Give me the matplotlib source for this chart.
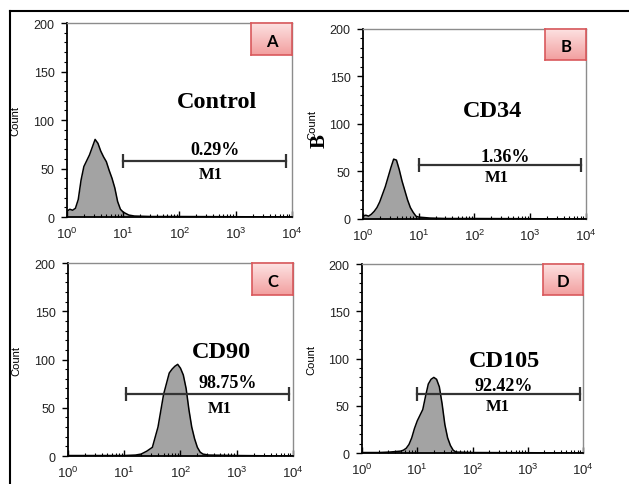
import numpy as np
import matplotlib.pyplot as plt
from matplotlib.lines import Line2D
from matplotlib.ticker import MultipleLocator, LogLocator, NullFormatter

plt.rcParams['font.family'] = ['Liberation Sans', 'DejaVu Sans']
plt.rcParams['mathtext.default'] = 'regular'

# ── DATA: histogram traces (log10 fluorescence, counts) ──────────
a_log = [0.0, 0.05, 0.1, 0.15, 0.2, 0.25, 0.3, 0.35, 0.4, 0.45, 0.5, 0.55, 0.6,
         0.65, 0.7, 0.75, 0.8, 0.85, 0.9, 0.95, 1.0, 1.1, 1.2, 1.5, 2.0, 3.0, 4.0]
a_cnt = [6, 8, 7, 9, 18, 38, 52, 58, 64, 72, 80, 76, 68,
         62, 57, 48, 40, 30, 16, 8, 5, 2, 1, 0.5, 0.5, 0.3, 0]

b_log = [0.0, 0.05, 0.1, 0.15, 0.2, 0.25, 0.3, 0.35, 0.4, 0.45, 0.5, 0.55, 0.6,
         0.65, 0.7, 0.75, 0.8, 0.85, 0.9, 0.95, 1.0, 1.2, 1.5, 2.0, 3.0, 4.0]
b_cnt = [3, 4, 3, 5, 8, 12, 18, 26, 34, 44, 54, 63, 62,
         52, 40, 30, 20, 12, 7, 3, 2, 1, 0.5, 0.5, 0.3, 0]

c_log = [0.0, 0.5, 1.0, 1.2, 1.3, 1.4, 1.5, 1.6, 1.7, 1.75, 1.8, 1.85, 1.9,
         1.95, 2.0, 2.05, 2.1, 2.15, 2.2, 2.25, 2.3, 2.35, 2.4, 2.5, 3.0, 4.0]
c_cnt = [0.5, 0.5, 0.5, 1, 2, 5, 9, 30, 64, 75, 86, 90, 93,
         95, 91, 84, 70, 48, 30, 18, 9, 4, 2, 1, 0.5, 0]

d_log = [0.0, 0.3, 0.5, 0.6, 0.7, 0.75, 0.8, 0.85, 0.9, 0.95, 1.0, 1.05, 1.1,
         1.15, 1.2, 1.25, 1.3, 1.35, 1.4, 1.45, 1.5, 1.55, 1.6, 1.65, 1.7, 2.0, 3.0, 4.0]
d_cnt = [0.5, 0.5, 1, 1.5, 2, 3, 5, 9, 16, 26, 34, 40, 46,
         60, 73, 78, 80, 78, 70, 52, 30, 16, 8, 3, 1, 0.5, 0.3, 0]

panel_letters = ['A', 'B', 'C', 'D']
markers = ['Control', 'CD34', 'CD90', 'CD105']
percents = ['0.29%', '1.36%', '98.75%', '92.42%']
gate_lo = [10, 10, 10.7, 10]
gate_hi = [7800, 8100, 8500, 8900]
gate_y = [58, 57, 64, 62]

# layout (fig fractions) and text positions (axes fractions)
positions = [[0.1065, 0.5505, 0.3577, 0.400],
             [0.5771, 0.5464, 0.3545, 0.3918],
             [0.1081, 0.0577, 0.3577, 0.3979],
             [0.5755, 0.0639, 0.3514, 0.3897]]
name_xy = [(0.667, 0.593), (0.58, 0.57), (0.684, 0.54), (0.647, 0.487)]
pct_xy = [(0.658, 0.35), (0.64, 0.33), (0.71, 0.38), (0.64, 0.355)]
m1_xy = [(0.637, 0.22), (0.60, 0.22), (0.676, 0.25), (0.613, 0.25)]

traces = [(a_log, a_cnt), (b_log, b_cnt), (c_log, c_cnt), (d_log, d_cnt)]

fig = plt.figure(figsize=(6.29, 4.85), dpi=100)

# outer frame lines (top and left)
fig.add_artist(Line2D([10/629, 1.0], [1 - 12/485, 1 - 12/485], color='black', lw=1.5))
fig.add_artist(Line2D([10/629, 10/629], [0, 1 - 12/485], color='black', lw=1.5))

gradient = np.linspace(0, 1, 64).reshape(-1, 1)
pink = plt.matplotlib.colors.LinearSegmentedColormap.from_list('pink', ['#fde3e3', '#f29f9f'])

for i in range(4):
    ax = fig.add_axes(positions[i])
    xs = np.power(10.0, traces[i][0])
    ys = np.array(traces[i][1])
    ax.fill_between(xs, 0, ys, color='#a3a3a3', lw=0)
    ax.plot(xs, ys, color='black', lw=1.1)
    ax.set_xscale('log')
    ax.set_xlim(1, 1e4)
    ax.set_ylim(0, 200)

    for s in ['left', 'bottom']:
        ax.spines[s].set_color('black')
        ax.spines[s].set_linewidth(1.3)
    for s in ['top', 'right']:
        ax.spines[s].set_color('#8c8c8c')
        ax.spines[s].set_linewidth(1.0)

    ax.yaxis.set_major_locator(MultipleLocator(50))
    ax.yaxis.set_minor_locator(MultipleLocator(10))
    ax.xaxis.set_major_locator(LogLocator(base=10, numticks=10))
    ax.xaxis.set_minor_locator(LogLocator(base=10, subs=np.arange(2, 10), numticks=20))
    ax.xaxis.set_minor_formatter(NullFormatter())
    ax.tick_params(axis='y', which='major', direction='out', length=4, width=1,
                   labelsize=9, pad=5, labelcolor='#222222')
    ax.tick_params(axis='y', which='minor', direction='out', length=2, width=0.8)
    ax.tick_params(axis='x', which='major', direction='in', length=4, width=1,
                   labelsize=9.5, pad=6, labelcolor='#222222')
    ax.tick_params(axis='x', which='minor', direction='in', length=2.5, width=0.8)
    ax.set_ylabel('Count', fontsize=8)
    ax.yaxis.set_label_coords(-0.205, 0.5)

    # M1 gate
    ax.plot([gate_lo[i], gate_hi[i]], [gate_y[i], gate_y[i]], color='#333333', lw=1.6)
    ax.plot([gate_lo[i], gate_hi[i]], [gate_y[i], gate_y[i]], ls='none', marker='|',
            ms=10, mew=1.6, color='#333333')

    serif = ['Liberation Serif', 'DejaVu Serif']
    ax.text(*name_xy[i], markers[i], transform=ax.transAxes, ha='center', va='center',
            fontsize=17.5, fontweight='bold', family=serif)
    ax.text(*pct_xy[i], percents[i], transform=ax.transAxes, ha='center', va='center',
            fontsize=13, fontweight='bold', family=serif)
    ax.text(*m1_xy[i], 'M1', transform=ax.transAxes, ha='center', va='center',
            fontsize=12, fontweight='bold', family=serif)

    if i == 1:
        # stray "B" overlapping the y label, as in the source figure
        ax.text(-0.193, 0.416, 'B', transform=ax.transAxes, rotation=90, ha='center',
                va='center', fontsize=15, fontweight='bold', family=serif)

    # panel letter box
    box = ax.inset_axes([0.818, 0.835, 0.182, 0.165])
    box.imshow(gradient, aspect='auto', cmap=pink, extent=[0, 1, 0, 1], origin='upper')
    box.set_xticks([])
    box.set_yticks([])
    for s in box.spines.values():
        s.set_color('#d9595c')
        s.set_linewidth(1.2)
    box.text(0.5, 0.45, panel_letters[i], ha='center', va='center', fontsize=12,
             fontweight='bold', family=['Lato', 'DejaVu Sans'], transform=box.transAxes)

plt.savefig('out.png', dpi=100)
